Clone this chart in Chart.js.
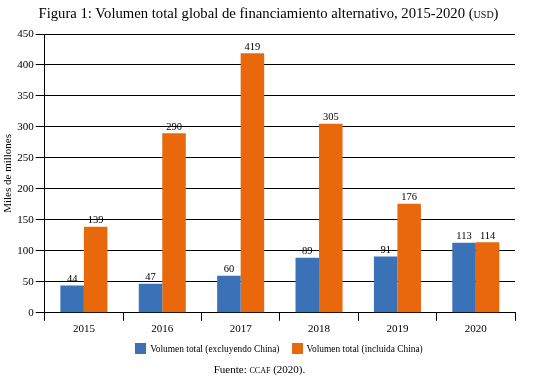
<!DOCTYPE html>
<html>
<head>
<meta charset="utf-8">
<script src="https://cdn.jsdelivr.net/npm/chart.js@4/dist/chart.umd.min.js"></script>
<style>
  html, body { margin: 0; padding: 0; background: #fff; }
  #wrap { position: relative; width: 537px; height: 380px; }
  #title { position: absolute; left: 0; top: 5px; width: 537px; text-align: center;
    font-family: "Liberation Serif", "DejaVu Serif", serif; font-size: 14.7px; color: #000; white-space: nowrap; }
  #source { position: absolute; left: 0; top: 363px; width: 519px; text-align: center;
    font-family: "Liberation Serif", "DejaVu Serif", serif; font-size: 11px; color: #000; }
  #legend { position: absolute; left: 44px; top: 343px; width: 470px; text-align: center;
    font-family: "Liberation Serif", "DejaVu Serif", serif; font-size: 9.4px; color: #000; white-space: nowrap; }
  #legend .item { display: inline-block; margin: 0 6px; }
  #legend .box { display: inline-block; width: 11px; height: 11px; vertical-align: -2px; margin-right: 4px; }
  .sc { font-variant: small-caps; text-transform: lowercase; }
  canvas { position: absolute; left: 0; top: 0; }
</style>
</head>
<body>
<div id="wrap">
  <canvas id="c" width="537" height="380"></canvas>
  <div id="title">Figura 1: Volumen total global de financiamiento alternativo, 2015-2020 (<span class="sc">USD</span>)</div>
  <div id="legend"></div>
  <div id="source">Fuente: <span class="sc">CCAF</span> (2020).</div>
</div>
<script>
const categories = ["2015", "2016", "2017", "2018", "2019", "2020"];
const seriesNames = ["Volumen total (excluyendo China)", "Volumen total (incluida China)"];
const excludingChina = [44, 47, 60, 89, 91, 113];
const includingChina = [139, 290, 419, 305, 176, 114];
const yTicks = [0, 50, 100, 150, 200, 250, 300, 350, 400, 450];
const yAxisTitle = "Miles de millones";
const seriesColors = ['#3b71b7', '#e8680b'];

const serif = "'Liberation Serif', 'DejaVu Serif', serif";

const valueLabels = {
  id: 'valueLabels',
  afterDatasetsDraw(chart) {
    const ctx = chart.ctx;
    ctx.save();
    ctx.font = "10.5px " + serif;
    ctx.fillStyle = "#000";
    ctx.textAlign = "center";
    ctx.textBaseline = "bottom";
    chart.data.datasets.forEach((ds, i) => {
      const meta = chart.getDatasetMeta(i);
      meta.data.forEach((bar, j) => {
        ctx.fillText(String(ds.data[j]), bar.x, bar.y - 1);
      });
    });
    ctx.restore();
  }
};

const chart = new Chart(document.getElementById('c'), {
  type: 'bar',
  data: {
    labels: categories,
    datasets: [
      { label: seriesNames[0], data: excludingChina, backgroundColor: seriesColors[0], borderWidth: 0 },
      { label: seriesNames[1], data: includingChina, backgroundColor: seriesColors[1], borderWidth: 0 }
    ]
  },
  options: {
    responsive: false,
    animation: false,
    devicePixelRatio: 1,
    layout: { padding: { top: 34, right: 22, bottom: 42, left: 0 } },
    datasets: { bar: { categoryPercentage: 0.6, barPercentage: 1.0 } },
    plugins: {
      legend: { display: false },
      tooltip: { enabled: false }
    },
    scales: {
      x: {
        grid: { display: true, drawOnChartArea: false, drawTicks: true, tickLength: 8, color: '#000', offset: true },
        border: { display: true, color: '#000', width: 1 },
        ticks: { color: '#000', font: { family: serif, size: 11 }, padding: 2 }
      },
      y: {
        min: 0, max: 450,
        afterBuildTicks(scale) { scale.ticks = yTicks.map(v => ({ value: v })); },
        grid: { color: '#000', lineWidth: 1, tickLength: 9 },
        border: { display: true, color: '#000', width: 1 },
        ticks: { color: '#000', font: { family: serif, size: 11 }, padding: 2 },
        title: { display: true, text: yAxisTitle, color: '#000', font: { family: serif, size: 11 }, padding: { top: 2, bottom: 0 } }
      }
    }
  },
  plugins: [valueLabels]
});

const legendEl = document.getElementById('legend');
chart.data.datasets.forEach((ds) => {
  const item = document.createElement('span');
  item.className = 'item';
  const box = document.createElement('span');
  box.className = 'box';
  box.style.background = ds.backgroundColor;
  item.appendChild(box);
  item.appendChild(document.createTextNode(ds.label));
  legendEl.appendChild(item);
});
</script>
</body>
</html>
